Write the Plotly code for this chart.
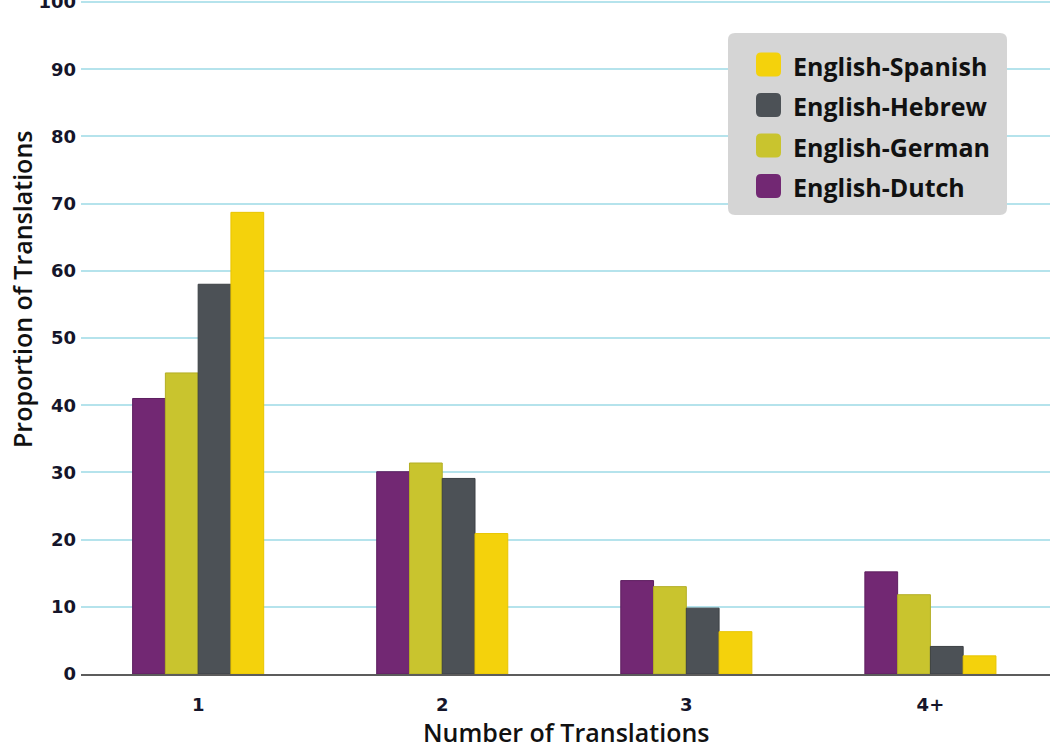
import plotly.graph_objects as go

categories = ["1", "2", "3", "4+"]
series_names = ["English-Dutch", "English-German", "English-Hebrew", "English-Spanish"]
dutch = [41.0, 30.1, 13.9, 15.2]
german = [44.8, 31.4, 13.0, 11.8]
hebrew = [58.0, 29.1, 9.8, 4.1]
spanish = [68.7, 20.9, 6.3, 2.7]
y_ticks = [0, 10, 20, 30, 40, 50, 60, 70, 80, 90, 100]
legend_order = ["English-Spanish", "English-Hebrew", "English-German", "English-Dutch"]

colors = {"English-Dutch": "#722873", "English-German": "#c9c42e",
          "English-Hebrew": "#4c5156", "English-Spanish": "#f4d20c"}
edges = {"English-Dutch": "#5e1f60", "English-German": "#b3ae25",
         "English-Hebrew": "#3c4044", "English-Spanish": "#e8c500"}
values = {"English-Dutch": dutch, "English-German": german,
          "English-Hebrew": hebrew, "English-Spanish": spanish}

fig = go.Figure()
for name in series_names:
    fig.add_trace(go.Bar(
        x=categories, y=values[name], name=name, showlegend=False,
        marker=dict(color=colors[name], line=dict(color=edges[name], width=1)),
    ))

W, H = 1050, 746
L, R, T, B = 81, 0, 0, 72
pw, ph = W - L - R, H - T - B


def px(x):
    return (x - L) / pw


def py(y):
    return 1 - (y - T) / ph


def rounded(x0, y0, x1, y1, r):
    # pixel coords -> paper path with rounded corners
    rx, ry = r / pw, r / ph
    a, b, c, d = px(x0), py(y1), px(x1), py(y0)  # left, bottom, right, top
    return (f"M {a+rx},{d} L {c-rx},{d} Q {c},{d} {c},{d-ry} "
            f"L {c},{b+ry} Q {c},{b} {c-rx},{b} L {a+rx},{b} Q {a},{b} {a},{b+ry} "
            f"L {a},{d-ry} Q {a},{d} {a+rx},{d} Z")


shapes = [dict(type="path", xref="paper", yref="paper", layer="above",
               path=rounded(728, 33, 1007, 215, 7), fillcolor="#d5d5d5", line=dict(width=0))]
annotations = []
row_centers = [64.5, 105, 145.5, 186]
for name, cy in zip(legend_order, row_centers):
    shapes.append(dict(type="path", xref="paper", yref="paper", layer="above",
                       path=rounded(756, cy - 12, 781, cy + 12, 5),
                       fillcolor=colors[name], line=dict(width=0)))
    annotations.append(dict(text=name, showarrow=False, xref="paper", yref="paper",
                            x=px(791), y=py(cy + 1), xanchor="left", yanchor="middle",
                            font=dict(family="Open Sans", size=25, color="#111111", weight="bold")))

annotations.append(dict(
    text="Proportion of Translations", textangle=-90, showarrow=False,
    xref="paper", yref="paper", x=px(22), y=py(290), xanchor="center", yanchor="middle",
    font=dict(family="Open Sans", size=25, color="#111111", weight=600)))
annotations.append(dict(
    text="Number of Translations", showarrow=False,
    xref="paper", yref="paper", x=px(566), y=py(732), xanchor="center", yanchor="middle",
    font=dict(family="Open Sans", size=25, color="#111111", weight=600)))

tick_font = dict(family="DejaVu Sans", size=18, color="#15152a", weight="bold")

fig.update_layout(
    width=W, height=H,
    margin=dict(l=L, r=R, t=T, b=B, autoexpand=False),
    plot_bgcolor="white", paper_bgcolor="white",
    barmode="group", bargap=0.463, bargroupgap=0,
    showlegend=False,
    xaxis=dict(
        automargin=False, showline=True, linecolor="#5c5c5c", linewidth=2,
        showgrid=False, ticks="", tickfont=tick_font, ticklabelstandoff=13,
        range=[-0.48, 3.49],
    ),
    yaxis=dict(
        automargin=False, range=[0, 100.3], tickvals=y_ticks, showgrid=True,
        gridcolor="#b5e3ec", gridwidth=2, ticklabeloverflow="allow",
        zeroline=False, ticks="", ticklabelstandoff=4, tickfont=tick_font,
    ),
    shapes=shapes,
    annotations=annotations,
)

fig.write_html("out.html", config={"displayModeBar": False},
               post_script="document.body.style.margin='0';")
